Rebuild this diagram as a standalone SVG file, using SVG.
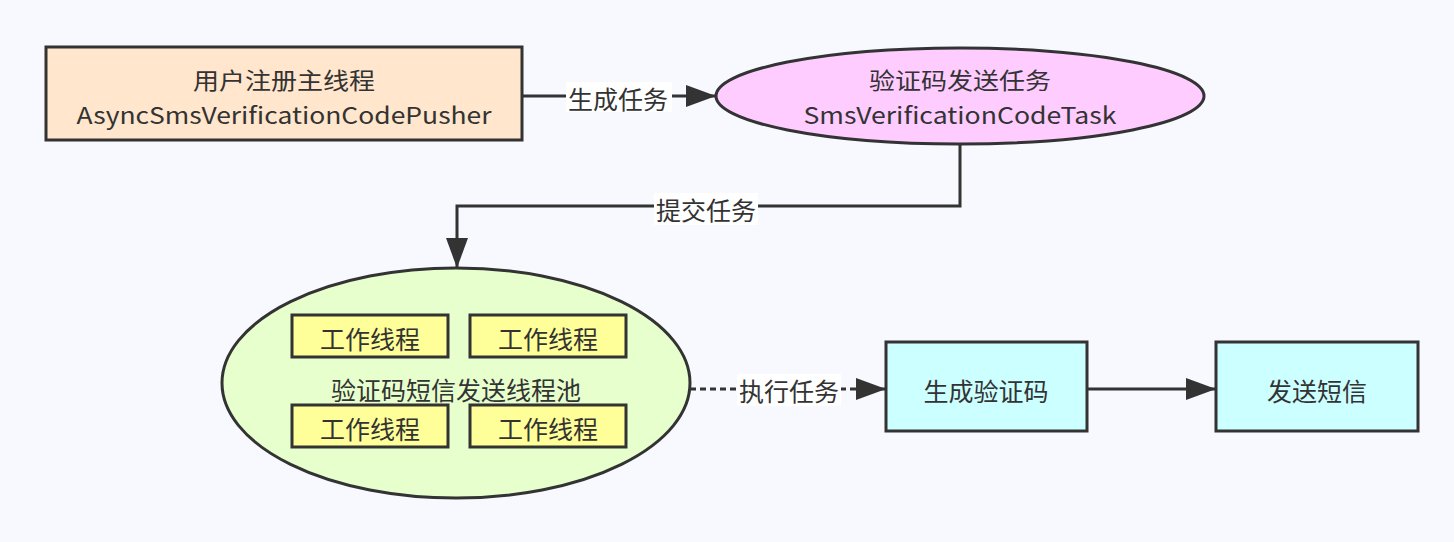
<svg xmlns="http://www.w3.org/2000/svg" width="1454" height="542" viewBox="0 0 1454 542">
<defs>
<style>
.s{stroke:#333;stroke-width:3}
.t{font-family:"Noto Sans CJK SC","Noto Sans",sans-serif;font-size:25px;fill:#333;text-anchor:middle;dominant-baseline:central}
.t2{font-size:23px}
.c{fill:none;stroke:#333;stroke-width:3}
.lb{fill:#fff}
</style>
<marker id="ah" viewBox="0 0 30 22" refX="30" refY="11" markerWidth="30" markerHeight="22" markerUnits="userSpaceOnUse" orient="auto">
<path d="M0,0 L30,11 L0,22 Z" fill="#333"/>
</marker>
</defs>
<rect width="1454" height="542" fill="#f8f9fe"/>
<g id="connectors">
<path class="c" d="M521,96 H716" marker-end="url(#ah)"/>
<rect class="lb" x="566" y="82" width="106" height="30"/>
<text class="t" x="618" y="98">生成任务</text>
<path class="c" d="M960,144 V206 H457 V268" marker-end="url(#ah)"/>
<rect class="lb" x="654" y="193" width="104" height="32"/>
<text class="t" x="706" y="209">提交任务</text>
<path class="c" d="M690,389 H886" stroke-dasharray="6 4" marker-end="url(#ah)"/>
<rect class="lb" x="737" y="374" width="104" height="32"/>
<text class="t" x="789" y="390">执行任务</text>
<path class="c" d="M1087,389 H1216" marker-end="url(#ah)"/>
</g>
<g id="main-thread">
<rect class="s" x="46" y="47" width="476" height="93" fill="#ffe6cc"/>
<text class="t t2" x="284" y="79" textLength="182" lengthAdjust="spacingAndGlyphs">用户注册主线程</text>
<text class="t t2" x="284" y="114" textLength="415" lengthAdjust="spacingAndGlyphs">AsyncSmsVerificationCodePusher</text>
</g>
<g id="task">
<ellipse class="s" cx="960" cy="96" rx="244" ry="48" fill="#ffccff"/>
<text class="t t2" x="960" y="79" textLength="182" lengthAdjust="spacingAndGlyphs">验证码发送任务</text>
<text class="t t2" x="960" y="114" textLength="313" lengthAdjust="spacingAndGlyphs">SmsVerificationCodeTask</text>
</g>
<g id="pool">
<ellipse class="s" cx="456" cy="383" rx="234" ry="115" fill="#e6ffcc"/>
<text class="t" x="456" y="389">验证码短信发送线程池</text>
</g>
<g id="worker1">
<rect class="s" x="292" y="315" width="156" height="42" fill="#ffff99"/>
<text class="t" x="370" y="338">工作线程</text>
</g>
<g id="worker2">
<rect class="s" x="470" y="315" width="156" height="42" fill="#ffff99"/>
<text class="t" x="548" y="338">工作线程</text>
</g>
<g id="worker3">
<rect class="s" x="292" y="405" width="156" height="42" fill="#ffff99"/>
<text class="t" x="370" y="428">工作线程</text>
</g>
<g id="worker4">
<rect class="s" x="470" y="405" width="156" height="42" fill="#ffff99"/>
<text class="t" x="548" y="428">工作线程</text>
</g>
<g id="gen-code">
<rect class="s" x="886" y="342" width="201" height="89" fill="#ccffff"/>
<text class="t" x="986" y="390">生成验证码</text>
</g>
<g id="send-sms">
<rect class="s" x="1216" y="342" width="202" height="89" fill="#ccffff"/>
<text class="t" x="1317" y="390">发送短信</text>
</g>
</svg>
